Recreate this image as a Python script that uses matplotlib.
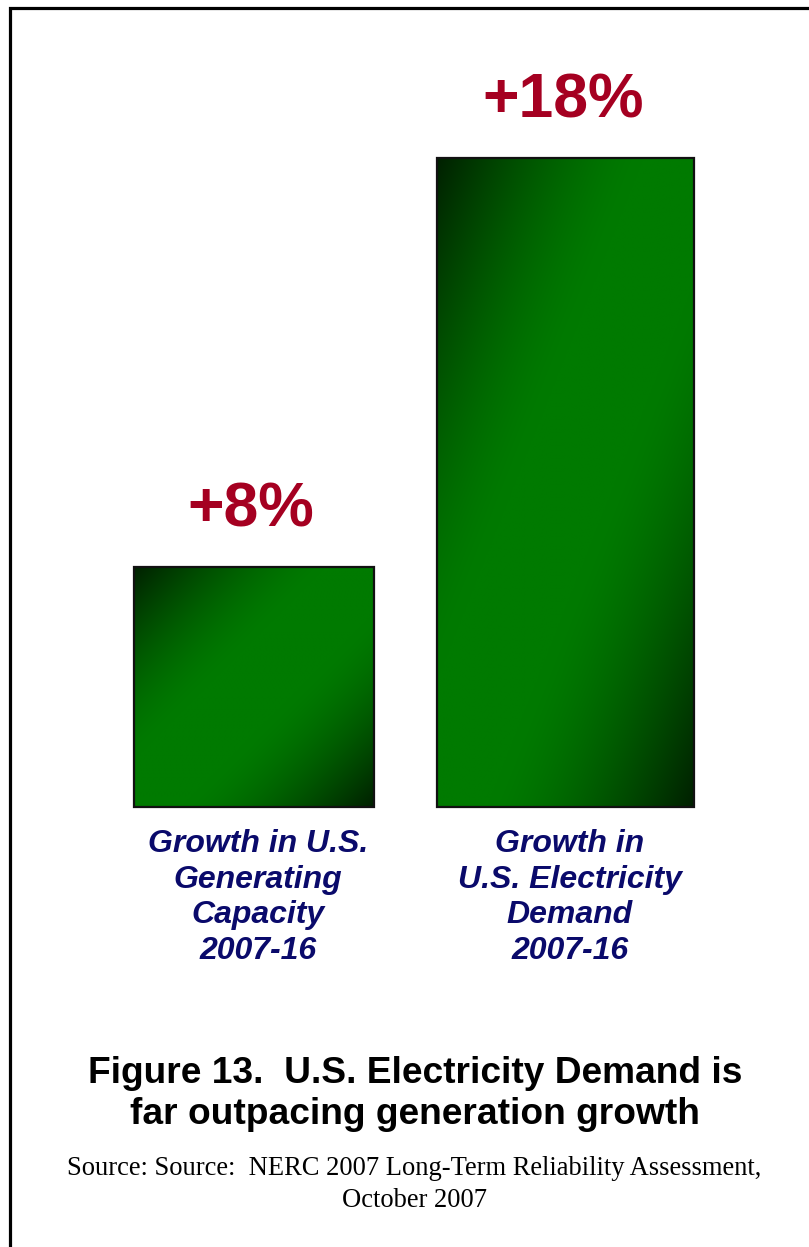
import numpy as np
import matplotlib.pyplot as plt
from matplotlib.lines import Line2D
from matplotlib.colors import to_rgb

# growth figures, 2007-16
categories = ["Growth in U.S.\nGenerating\nCapacity\n2007-16",
              "Growth in\nU.S. Electricity\nDemand\n2007-16"]
growth_pct = [8, 18]
value_labels = ["+8%", "+18%"]

BASE = 2.13            # value at which the bars start
bar_widths = [0.77, 0.825]
GREEN = np.array(to_rgb("#007a00"))
DARK = np.array(to_rgb("#002000"))
RED = "#a50021"
NAVY = "#0a0a6b"

fig = plt.figure(figsize=(8.09, 12.47), dpi=100)
ax = fig.add_axes([0, 0, 1, 1])
ax.axis("off")

x = np.arange(len(categories))
heights = [v - BASE for v in growth_pct]
bars = ax.bar(x, heights, width=bar_widths, bottom=BASE, color="none",
              edgecolor="#111111", linewidth=1.6, zorder=3)

# diagonal shading: dark in the top-left and bottom-right corners
u, v = np.meshgrid(np.linspace(0, 1, 200), np.linspace(0, 1, 200))
s = np.abs(u - v)
t = (np.clip((s - 0.2) / 0.8, 0, 1) ** 1.5)[..., None]
shade = GREEN * (1 - t) + DARK * t

for b in bars:
    x0, y0 = b.get_x(), b.get_y()
    im = ax.imshow(shade, origin="lower", aspect="auto", interpolation="bilinear",
                   extent=[x0, x0 + b.get_width(), y0, y0 + b.get_height()], zorder=2)
    im.set_clip_path(b)

ax.set_xlim(-0.8154, 1.7817)
ax.set_ylim(-8.63, 21.86)

for xi, val, lab in zip(x, growth_pct, value_labels):
    ax.annotate(lab, (xi, val), xytext=(-2, 29), textcoords="offset points",
                ha="center", va="baseline", fontsize=45, fontweight="bold",
                color=RED, family="Liberation Sans")

for xi, cat in zip(x, categories):
    ax.annotate(cat, (xi, BASE), xytext=(3, -16), textcoords="offset points",
                ha="center", va="top", fontsize=23, fontweight="bold",
                fontstyle="italic", color=NAVY, family="Liberation Sans",
                linespacing=1.24)

fig.text(415 / 809, 1 - 1056 / 1247,
         "Figure 13.  U.S. Electricity Demand is\nfar outpacing generation growth",
         ha="center", va="top", fontsize=26.7, fontweight="bold",
         family="Liberation Sans", linespacing=1.23)
fig.text(414 / 809, 1 - 1156 / 1247,
         "Source: Source:  NERC 2007 Long-Term Reliability Assessment,\nOctober 2007",
         ha="center", va="top", fontsize=19.1, family="Liberation Serif",
         linespacing=1.39)

# page frame along the left and top edges
fig.add_artist(Line2D([10 / 809, 10 / 809, 1], [0, 1 - 8 / 1247, 1 - 8 / 1247],
                      color="black", lw=2.3, solid_joinstyle="miter",
                      transform=fig.transFigure))

fig.savefig("out.png", dpi=100, facecolor="white")
